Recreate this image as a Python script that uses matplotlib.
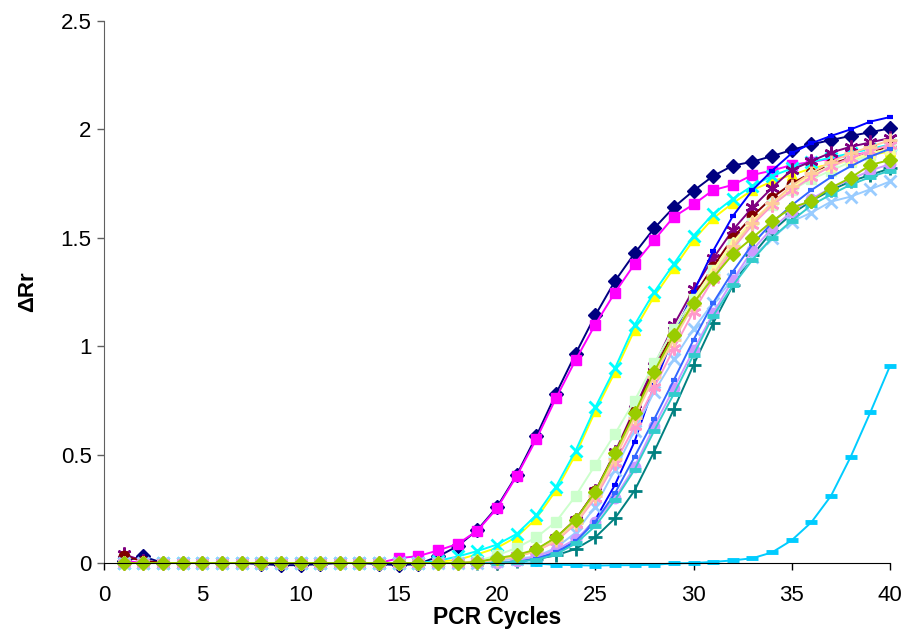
import matplotlib
matplotlib.use("Agg")
import matplotlib.pyplot as plt

plt.rcParams['font.family'] = ['Liberation Sans', 'DejaVu Sans']

cycles = list(range(1, 41))
x_ticks = [0, 5, 10, 15, 20, 25, 30, 35, 40]
y_ticks = [0, 0.5, 1, 1.5, 2, 2.5]
y_tick_labels = ["0", "0.5", "1", "1.5", "2", "2.5"]

s_navy = [0.01, 0.03, 0.00, 0.00, 0.00, 0.00, 0.00, -0.005, -0.01, -0.01,
          -0.005, 0.00, 0.00, -0.005, -0.01, -0.005, 0.03, 0.078, 0.152, 0.258,
          0.406, 0.585, 0.78, 0.965, 1.142, 1.30, 1.428, 1.544, 1.641, 1.717,
          1.785, 1.833, 1.851, 1.877, 1.905, 1.931, 1.951, 1.97, 1.987, 2.005]
s_magenta = [0.01, 0.00, 0.00, 0.00, 0.00, 0.00, 0.00, 0.00, 0.00, 0.00,
             0.00, 0.00, 0.00, 0.00, 0.022, 0.032, 0.058, 0.088, 0.149, 0.252,
             0.401, 0.571, 0.76, 0.936, 1.10, 1.247, 1.379, 1.49, 1.597, 1.654,
             1.72, 1.744, 1.79, 1.81, 1.836, 1.85, 1.865, 1.88, 1.895, 1.91]
s_yellow = [0.00, 0.00, 0.00, 0.00, 0.00, 0.00, 0.00, 0.00, 0.00, 0.00,
            0.00, 0.00, 0.00, 0.00, 0.00, 0.00, 0.005, 0.015, 0.04, 0.07,
            0.12, 0.205, 0.335, 0.50, 0.70, 0.88, 1.075, 1.23, 1.36, 1.49,
            1.59, 1.66, 1.72, 1.76, 1.79, 1.82, 1.84, 1.86, 1.88, 1.90]
s_cyan = [0.00, 0.00, 0.00, 0.00, 0.00, 0.00, 0.00, 0.00, 0.00, 0.00,
          0.00, 0.00, 0.00, 0.00, 0.00, 0.00, 0.01, 0.03, 0.055, 0.085,
          0.134, 0.221, 0.352, 0.518, 0.718, 0.898, 1.098, 1.25, 1.38, 1.51,
          1.61, 1.68, 1.74, 1.785, 1.82, 1.85, 1.87, 1.89, 1.91, 1.93]
s_purple = [0.04, 0.01, 0.00, 0.00, 0.00, 0.00, 0.00, 0.00, 0.00, 0.00,
            0.00, 0.00, 0.00, 0.00, 0.00, 0.00, 0.00, 0.00, 0.005, 0.015,
            0.03, 0.06, 0.115, 0.20, 0.33, 0.51, 0.71, 0.91, 1.098, 1.262,
            1.405, 1.536, 1.64, 1.731, 1.813, 1.854, 1.893, 1.92, 1.94, 1.96]
s_darkred = [0.03, 0.01, 0.00, 0.00, 0.00, 0.00, 0.00, 0.00, 0.00, 0.00,
             0.00, 0.00, 0.00, 0.00, 0.00, 0.00, 0.00, 0.00, 0.005, 0.015,
             0.03, 0.06, 0.115, 0.20, 0.33, 0.505, 0.70, 0.89, 1.07, 1.23,
             1.367, 1.50, 1.60, 1.685, 1.75, 1.80, 1.84, 1.87, 1.895, 1.92]
s_teal = [0.00, 0.00, 0.00, 0.00, 0.00, 0.00, 0.00, 0.00, 0.00, 0.00,
          0.00, 0.00, 0.00, 0.00, 0.00, 0.00, 0.00, 0.00, 0.00, 0.00,
          0.008, 0.018, 0.035, 0.065, 0.118, 0.206, 0.334, 0.514, 0.709, 0.913,
          1.106, 1.28, 1.42, 1.53, 1.61, 1.67, 1.72, 1.76, 1.79, 1.82]
s_blue = [0.00, 0.00, 0.00, 0.00, 0.00, 0.00, 0.00, 0.00, 0.00, 0.00,
          0.00, 0.00, 0.00, 0.00, 0.00, 0.00, 0.00, 0.00, 0.00, 0.00,
          0.005, 0.02, 0.045, 0.10, 0.20, 0.36, 0.56, 0.82, 1.05, 1.25,
          1.44, 1.60, 1.72, 1.81, 1.89, 1.936, 1.97, 2.00, 2.036, 2.057]
s_skyblue = [0.00, 0.00, 0.00, 0.00, 0.00, 0.00, 0.00, 0.00, 0.00, 0.00,
             0.00, 0.00, 0.00, 0.00, 0.00, 0.00, 0.00, 0.00, 0.00, 0.00,
             0.00, -0.003, -0.008, -0.01, -0.012, -0.01, -0.01, -0.008, -0.002, 0.00,
             0.005, 0.012, 0.022, 0.049, 0.105, 0.188, 0.31, 0.49, 0.695, 0.909]
s_lightturq = [0.00, 0.00, 0.00, 0.00, 0.00, 0.00, 0.00, 0.00, 0.00, 0.00,
               0.00, 0.00, 0.00, 0.00, 0.00, 0.00, 0.00, 0.00, 0.005, 0.015,
               0.03, 0.06, 0.11, 0.19, 0.32, 0.49, 0.68, 0.87, 1.04, 1.20,
               1.34, 1.47, 1.57, 1.66, 1.73, 1.79, 1.83, 1.86, 1.89, 1.91]
s_lightgreen = [0.00, 0.00, 0.00, 0.00, 0.00, 0.00, 0.00, 0.00, 0.00, 0.00,
                0.00, 0.00, 0.00, 0.00, 0.00, 0.00, 0.00, 0.00, 0.01, 0.035,
                0.07, 0.118, 0.19, 0.309, 0.452, 0.595, 0.749, 0.921, 1.08, 1.22,
                1.35, 1.47, 1.57, 1.65, 1.72, 1.77, 1.81, 1.85, 1.88, 1.91]
s_lightyellow = [0.00, 0.00, 0.00, 0.00, 0.00, 0.00, 0.00, 0.00, 0.00, 0.00,
                 0.00, 0.00, 0.00, 0.00, 0.00, 0.00, 0.00, 0.00, 0.005, 0.015,
                 0.03, 0.055, 0.105, 0.185, 0.31, 0.49, 0.68, 0.87, 1.05, 1.21,
                 1.35, 1.48, 1.58, 1.66, 1.73, 1.79, 1.83, 1.86, 1.89, 1.91]
s_lightblue = [0.00, 0.00, 0.00, 0.00, 0.00, 0.00, 0.00, 0.00, 0.00, 0.00,
               0.00, 0.00, 0.00, 0.00, 0.00, 0.00, 0.00, 0.00, 0.00, 0.01,
               0.02, 0.03, 0.07, 0.14, 0.26, 0.43, 0.61, 0.79, 0.94, 1.08,
               1.20, 1.31, 1.41, 1.498, 1.575, 1.616, 1.667, 1.69, 1.724, 1.76]
s_pink = [0.00, 0.00, 0.00, 0.00, 0.00, 0.00, 0.00, 0.00, 0.00, 0.00,
          0.00, 0.00, 0.00, 0.00, 0.00, 0.00, 0.00, 0.00, 0.005, 0.015,
          0.03, 0.055, 0.10, 0.18, 0.30, 0.46, 0.63, 0.81, 0.99, 1.16,
          1.31, 1.45, 1.56, 1.65, 1.72, 1.78, 1.83, 1.87, 1.90, 1.93]
s_lavender = [0.00, 0.00, 0.00, 0.00, 0.00, 0.00, 0.00, 0.00, 0.00, 0.00,
              0.00, 0.00, 0.00, 0.00, 0.00, 0.00, 0.00, 0.00, 0.00, 0.00,
              0.01, 0.03, 0.06, 0.11, 0.19, 0.30, 0.444, 0.632, 0.806, 0.982,
              1.152, 1.305, 1.444, 1.544, 1.62, 1.68, 1.73, 1.77, 1.81, 1.84]
s_peach = [0.00, 0.00, 0.00, 0.00, 0.00, 0.00, 0.00, 0.00, 0.00, 0.00,
           0.00, 0.00, 0.00, 0.00, 0.00, 0.00, 0.00, 0.00, 0.005, 0.015,
           0.03, 0.055, 0.105, 0.185, 0.31, 0.48, 0.67, 0.86, 1.03, 1.19,
           1.33, 1.46, 1.57, 1.66, 1.74, 1.80, 1.85, 1.89, 1.92, 1.95]
s_royalblue = [0.00, 0.00, 0.00, 0.00, 0.00, 0.00, 0.00, 0.00, 0.00, 0.00,
               0.00, 0.00, 0.00, 0.00, 0.00, 0.00, 0.00, 0.00, 0.00, 0.00,
               0.005, 0.02, 0.05, 0.10, 0.19, 0.321, 0.49, 0.663, 0.844, 1.029,
               1.20, 1.344, 1.47, 1.57, 1.65, 1.72, 1.78, 1.83, 1.875, 1.91]
s_turquoise = [0.00, 0.00, 0.00, 0.00, 0.00, 0.00, 0.00, 0.00, 0.00, 0.00,
               0.00, 0.00, 0.00, 0.00, 0.00, 0.00, 0.00, 0.00, 0.00, 0.00,
               0.005, 0.015, 0.04, 0.09, 0.17, 0.29, 0.43, 0.61, 0.78, 0.96,
               1.14, 1.28, 1.398, 1.50, 1.579, 1.65, 1.70, 1.745, 1.78, 1.81]
s_green = [0.00, 0.00, 0.00, 0.00, 0.00, 0.00, 0.00, 0.00, 0.00, 0.00,
           0.00, 0.00, 0.00, 0.00, 0.00, 0.00, 0.00, 0.00, 0.005, 0.022,
           0.037, 0.063, 0.118, 0.20, 0.329, 0.506, 0.69, 0.883, 1.052, 1.20,
           1.316, 1.424, 1.50, 1.577, 1.639, 1.67, 1.731, 1.777, 1.836, 1.859]

series = [s_navy, s_magenta, s_yellow, s_cyan, s_purple, s_darkred, s_teal,
          s_blue, s_skyblue, s_lightturq, s_lightgreen, s_lightyellow,
          s_lightblue, s_pink, s_lavender, s_peach, s_royalblue, s_turquoise,
          s_green]

colors = ['#000080', '#FF00FF', '#FFFF00', '#00FFFF', '#800080', '#800000',
          '#008080', '#0000FF', '#00CCFF', '#CCFFFF', '#CCFFCC', '#FFFF99',
          '#99CCFF', '#FF99CC', '#CC99FF', '#FFCC99', '#3366FF', '#33CCCC',
          '#99CC00']

asterisk = (6, 2, 0)
# marker, size, edge width
styles = [('D', 7.5, 1.0), ('s', 7.0, 1.0), ('^', 7.5, 1.0), ('x', 9.0, 2.0),
          (asterisk, 10.0, 1.8), ('o', 7.5, 1.0), ('+', 9.5, 2.0),
          ('_', 5.0, 3.0), ('_', 9.0, 3.5),
          ('D', 7.5, 1.0), ('s', 7.0, 1.0), ('^', 7.5, 1.0), ('x', 9.0, 2.0),
          (asterisk, 10.0, 1.8), ('o', 7.5, 1.0), ('+', 9.5, 2.0),
          ('_', 5.0, 3.0), ('_', 9.0, 3.5), ('D', 7.5, 1.0)]

fig = plt.figure(figsize=(9.10, 6.33), dpi=100)
ax = fig.add_axes([104 / 910, 70 / 633, 786 / 910, 542 / 633])

for vals, col, (mk, ms, mew) in zip(series, colors, styles):
    ax.plot(cycles, vals, color=col, lw=1.4, marker=mk, markersize=ms,
            markeredgewidth=mew, markerfacecolor=col, markeredgecolor=col,
            clip_on=False)

ax.set_xlim(0, 40)
ax.set_ylim(0, 2.5)
ax.set_xticks(x_ticks)
ax.set_yticks(y_ticks)
ax.set_yticklabels(y_tick_labels)
ax.tick_params(axis='both', direction='out', length=5, width=1.0,
               labelsize=16, colors='black')
ax.tick_params(axis='x', pad=11)
ax.tick_params(axis='y', pad=4, color='#606060')
for side in ['top', 'right']:
    ax.spines[side].set_visible(False)
ax.spines['left'].set_color('#606060')
ax.spines['bottom'].set_color('black')

ax.set_xlabel('PCR Cycles', fontsize=16.5, fontweight='bold', labelpad=0)
ax.set_ylabel('ΔRr', fontsize=16, fontweight='bold', labelpad=16)

fig.savefig('out.png', dpi=100)
